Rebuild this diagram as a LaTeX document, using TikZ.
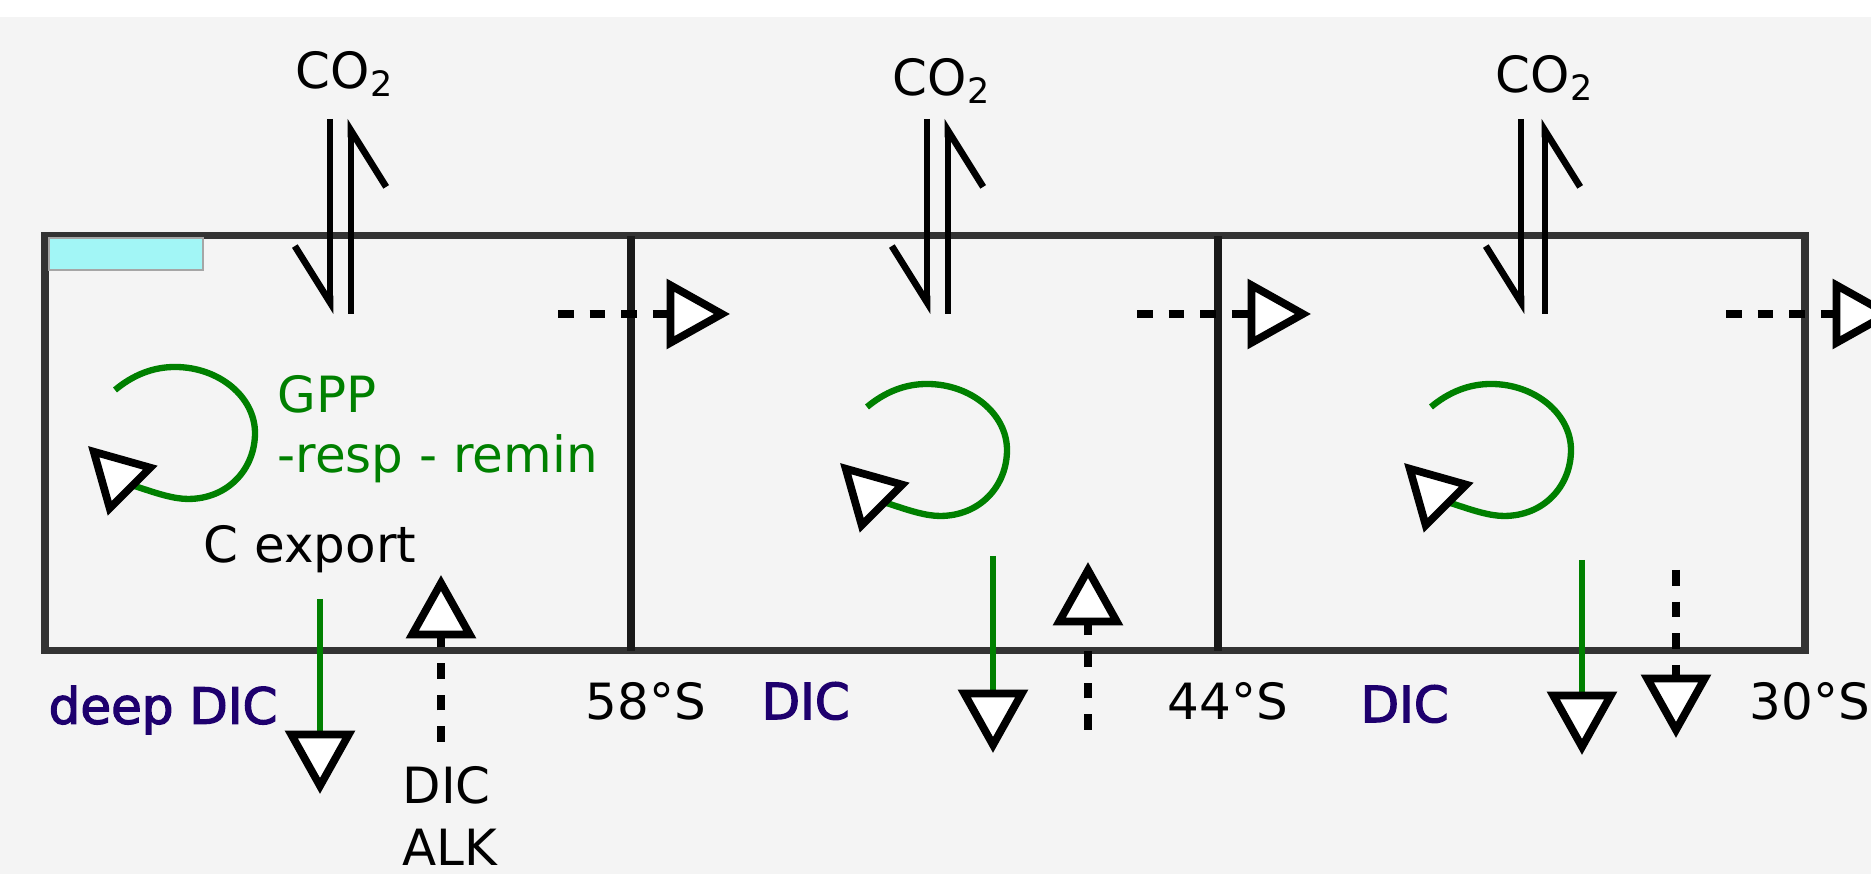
\documentclass[tikz,border=0pt]{standalone}
\usepackage{fontspec}
\setmainfont{DejaVu Sans}
\newfontfamily\dicfont[FakeBold=2.5]{DejaVu Sans}
\usetikzlibrary{arrows.meta}
\definecolor{boxgray}{HTML}{333333}
\definecolor{bggray}{HTML}{F4F4F4}
\definecolor{fluxgreen}{HTML}{008000}
\definecolor{dicblue}{HTML}{1E006E}
\definecolor{icecyan}{HTML}{A2F6F6}

\begin{document}
\begin{tikzpicture}[
  x=0.01cm, y=0.01cm,
  font=\fontsize{14.2}{17}\selectfont,
  box/.style={draw=boxgray, line width=2pt},
  wall/.style={draw=black!90, line width=2pt},
  gasflux/.style={line width=1.9pt, -{Straight Barb[right, length=16pt, width=20pt]}},
  tri/.style={-{Triangle[fill=white, color=black, line width=2.2pt, length=18pt, width=19.5pt]}},
  gpploop/.style={tri, draw=fluxgreen, line width=1.8pt},
  cexport/.style={tri, draw=fluxgreen, line width=1.6pt},
  mixflux/.style={tri, line width=2.1pt, dash pattern=on 4.5pt off 4.5pt},
  lbl/.style={anchor=west, inner sep=0pt},
  diclbl/.style={lbl, text=dicblue, font=\fontsize{14.2}{17}\dicfont}
]
% page and boxes
\fill[white] (0,0) rectangle (1871,874);
\fill[bggray] (0,0) rectangle (1871,857);
\useasboundingbox (0,0) rectangle (1871,874);
\draw[box] (45,223) rectangle (1805,638);
\draw[wall] (631,223) -- (631,638);
\draw[wall] (1218,223) -- (1218,638);
\fill[icecyan, draw=black!35, line width=0.6pt] (49,604) rectangle (203,636);

% air-sea exchange
\node (co2a) at (345,800) {CO\textsubscript{2}};
\node (co2b) at (942,793) {CO\textsubscript{2}};
\node (co2c) at (1545,796) {CO\textsubscript{2}};
\coordinate (ina) at (330,560);
\coordinate (outa) at (351,755);
\coordinate (inb) at (927,560);
\coordinate (outb) at (948,755);
\coordinate (inc) at (1521,560);
\coordinate (outc) at (1545,755);
\draw[gasflux] (ina |- outa) -- (ina);
\draw[gasflux] (outa |- ina) -- (outa);
\draw[gasflux] (inb |- outb) -- (inb);
\draw[gasflux] (outb |- inb) -- (outb);
\draw[gasflux] (inc |- outc) -- (inc);
\draw[gasflux] (outc |- inc) -- (outc);

% northward transport
\coordinate (ta) at (558,560);
\coordinate (tb) at (1137,560);
\coordinate (tc) at (1726,560);
\draw[mixflux] (ta) -- (730,560);
\draw[mixflux] (tb) -- (1311,560);
\draw[mixflux] (tc) -- (1896,560);

% biology (same loop in every box)
\draw[gpploop, shift={(-752,17)}] (867,467) .. controls (885,482) and (905,490) .. (927,490)
  .. controls (971,490) and (1007,460) .. (1007,424) .. controls (1007,388) and (980,358) .. (940,358)
  .. controls (912,358) and (870,381) .. (840,411);
\draw[gpploop] (867,467) .. controls (885,482) and (905,490) .. (927,490)
  .. controls (971,490) and (1007,460) .. (1007,424) .. controls (1007,388) and (980,358) .. (940,358)
  .. controls (912,358) and (870,381) .. (840,411);
\draw[gpploop, shift={(564,0)}] (867,467) .. controls (885,482) and (905,490) .. (927,490)
  .. controls (971,490) and (1007,460) .. (1007,424) .. controls (1007,388) and (980,358) .. (940,358)
  .. controls (912,358) and (870,381) .. (840,411);
\node[lbl, text=fluxgreen] (gpp) at (277,480) {GPP};
\node[lbl, text=fluxgreen] (resp) at (277,415) {-resp - remin};
\node (cexp) at (310,325) {C export};

% export and deep exchange
\coordinate (ea) at (320,275);
\coordinate (eb) at (993,318);
\coordinate (ec) at (1582,314);
\draw[cexport] (ea) -- (320,80);
\draw[cexport] (eb) -- (993,121);
\draw[cexport] (ec) -- (1582,119);
\coordinate (ua) at (441,132);
\coordinate (ub) at (1088,144);
\coordinate (dc) at (1676,304);
\draw[mixflux] (ua) -- (441,299);
\draw[mixflux] (ub) -- (1088,312);
\draw[mixflux] (dc) -- (1676,136);

% labels below
\node[diclbl] (deep) at (48,164) {deep DIC};
\node[lbl] (dic0) at (402,89) {DIC};
\node[lbl] (alk0) at (402,27) {ALK};
\node[lbl] (s58) at (585,173) {58°S};
\node[diclbl] (dic1) at (761,173) {DIC};
\node[lbl] (s44) at (1167,173) {44°S};
\node[diclbl] (dic2) at (1360,170) {DIC};
\node[lbl] (s30) at (1749,173) {30°S};
\end{tikzpicture}
\end{document}
